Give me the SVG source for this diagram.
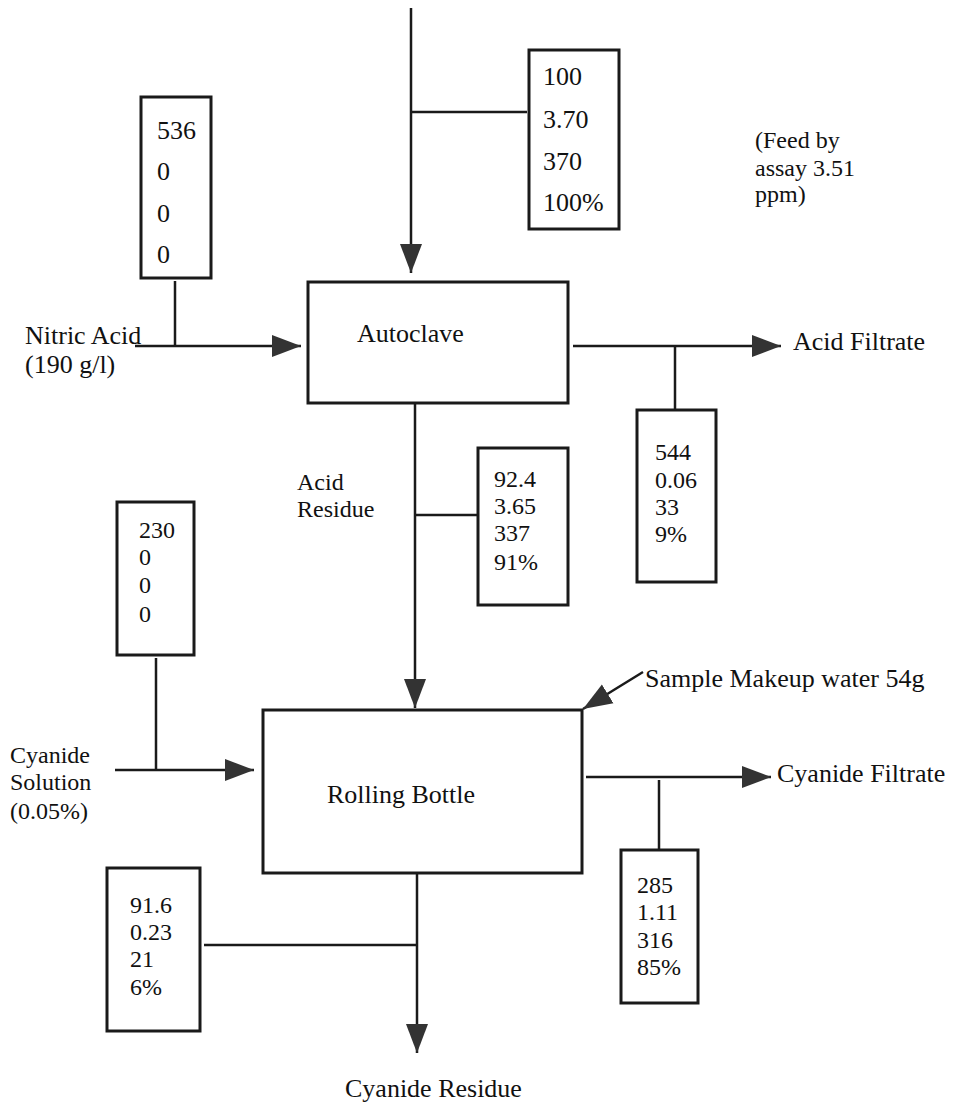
<svg xmlns="http://www.w3.org/2000/svg" width="960" height="1107" viewBox="0 0 960 1107" font-family="'Liberation Serif', 'DejaVu Serif', serif">
<defs>
<style>
text{font-family:'Liberation Serif','DejaVu Serif',serif;font-size:26px;fill:#111}
.s{font-size:24px}
.box{fill:none;stroke:#1a1a1a;stroke-width:3}
.ln{fill:none;stroke:#1a1a1a;stroke-width:2.5}
</style>
<marker id="ah" markerUnits="userSpaceOnUse" markerWidth="30" markerHeight="24" refX="29" refY="12" orient="auto">
<path d="M0,1 L29,12 L0,23 z" fill="#333"/>
</marker>
</defs>
<rect width="960" height="1107" fill="#fff"/>
<g id="connectors">
<line class="ln" x1="411" y1="8" x2="411" y2="273" marker-end="url(#ah)"/>
<line class="ln" x1="411" y1="112" x2="527" y2="112"/>
<line class="ln" x1="175" y1="281" x2="175" y2="346"/>
<line class="ln" x1="135" y1="346" x2="301" y2="346" marker-end="url(#ah)"/>
<line class="ln" x1="573" y1="346" x2="781" y2="346" marker-end="url(#ah)"/>
<line class="ln" x1="675" y1="346" x2="675" y2="409"/>
<line class="ln" x1="415" y1="403" x2="415" y2="708" marker-end="url(#ah)"/>
<line class="ln" x1="415" y1="515" x2="478" y2="515"/>
<line class="ln" x1="156" y1="658" x2="156" y2="770"/>
<line class="ln" x1="115" y1="770" x2="254" y2="770" marker-end="url(#ah)"/>
<line class="ln" x1="643" y1="672" x2="583" y2="709" marker-end="url(#ah)"/>
<line class="ln" x1="586" y1="777" x2="771" y2="777" marker-end="url(#ah)"/>
<line class="ln" x1="659" y1="780" x2="659" y2="850"/>
<line class="ln" x1="417" y1="873" x2="417" y2="1053" marker-end="url(#ah)"/>
<line class="ln" x1="204" y1="945" x2="417" y2="945"/>
</g>
<g id="feed-box">
<rect class="box" x="529" y="50" width="90" height="179"/>
<text x="543" y="85">100</text>
<text x="543" y="128">3.70</text>
<text x="543" y="170">370</text>
<text x="543" y="211">100%</text>
</g>
<g id="feed-note" class="s">
<text class="s" x="755" y="148">(Feed by</text>
<text class="s" x="755" y="176">assay 3.51</text>
<text class="s" x="755" y="202">ppm)</text>
</g>
<g id="nitric-box">
<rect class="box" x="141" y="97" width="70" height="181"/>
<text x="157" y="139">536</text>
<text x="157" y="180">0</text>
<text x="157" y="222">0</text>
<text x="157" y="263">0</text>
</g>
<g id="nitric-label">
<text x="25" y="344">Nitric Acid</text>
<text x="25" y="373">(190 g/l)</text>
</g>
<g id="autoclave">
<rect class="box" x="308" y="282" width="260" height="121"/>
<text x="357" y="342">Autoclave</text>
</g>
<g id="acid-filtrate">
<text x="793" y="350">Acid Filtrate</text>
</g>
<g id="acid-filtrate-box">
<rect class="box" x="637" y="410" width="79" height="172"/>
<text class="s" x="655" y="460">544</text>
<text class="s" x="655" y="488">0.06</text>
<text class="s" x="655" y="515">33</text>
<text class="s" x="655" y="542">9%</text>
</g>
<g id="acid-residue-label">
<text class="s" x="297" y="490">Acid</text>
<text class="s" x="297" y="517">Residue</text>
</g>
<g id="acid-residue-box">
<rect class="box" x="478" y="448" width="90" height="157"/>
<text class="s" x="494" y="487">92.4</text>
<text class="s" x="494" y="514">3.65</text>
<text class="s" x="494" y="541">337</text>
<text class="s" x="494" y="570">91%</text>
</g>
<g id="cyanide-solution-box">
<rect class="box" x="117" y="502" width="77" height="153"/>
<text class="s" x="139" y="538">230</text>
<text class="s" x="139" y="565">0</text>
<text class="s" x="139" y="593">0</text>
<text class="s" x="139" y="622">0</text>
</g>
<g id="cyanide-solution-label">
<text class="s" x="10" y="763">Cyanide</text>
<text class="s" x="10" y="790">Solution</text>
<text class="s" x="10" y="819">(0.05%)</text>
</g>
<g id="makeup-water">
<text x="645" y="687">Sample Makeup water 54g</text>
</g>
<g id="rolling-bottle">
<rect class="box" x="263" y="710" width="319" height="163"/>
<text x="327" y="803">Rolling Bottle</text>
</g>
<g id="cyanide-filtrate">
<text x="777" y="782">Cyanide Filtrate</text>
</g>
<g id="cyanide-filtrate-box">
<rect class="box" x="621" y="850" width="77" height="153"/>
<text class="s" x="637" y="893">285</text>
<text class="s" x="637" y="920">1.11</text>
<text class="s" x="637" y="948">316</text>
<text class="s" x="637" y="975">85%</text>
</g>
<g id="cyanide-residue-box">
<rect class="box" x="107" y="868" width="93" height="163"/>
<text class="s" x="130" y="913">91.6</text>
<text class="s" x="130" y="940">0.23</text>
<text class="s" x="130" y="967">21</text>
<text class="s" x="130" y="995">6%</text>
</g>
<g id="cyanide-residue">
<text x="345" y="1097">Cyanide Residue</text>
</g>
</svg>
